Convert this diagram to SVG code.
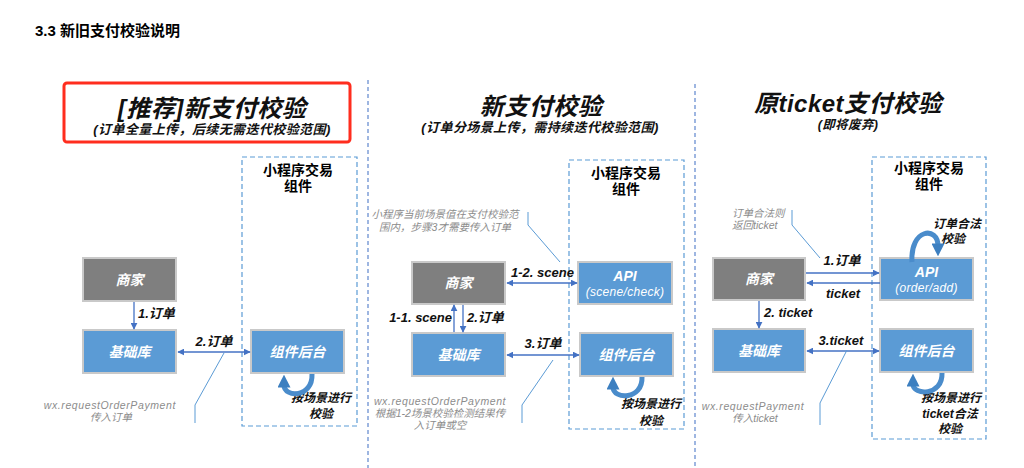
<svg xmlns="http://www.w3.org/2000/svg" width="1024" height="468" viewBox="0 0 1024 468">
<defs>
<style>
.h{font-family:"Liberation Sans","Noto Sans CJK SC",sans-serif;font-weight:bold;fill:#000}
.t{font-family:"Liberation Sans","Noto Sans CJK SC",sans-serif;font-weight:bold;font-style:italic;fill:#111}
.w{font-family:"Liberation Sans","Noto Sans CJK SC",sans-serif;font-weight:bold;font-style:italic;fill:#fff;font-size:14px;text-anchor:middle}
.ws{font-weight:normal;font-size:12px;letter-spacing:0.3px}
.g{font-family:"Liberation Sans","Noto Sans CJK SC",sans-serif;font-style:italic;fill:#8c8c8c;font-size:10.5px}
.gray{fill:#7f7f7f;stroke:#c9c9c9;stroke-width:2}
.blue{fill:#5b9bd5;stroke:#c9c9c9;stroke-width:2}
.dash{fill:none;stroke:#5b9bd5;stroke-width:1.2;stroke-dasharray:5 3}
.div{fill:none;stroke:#7f9fd8;stroke-width:1.5;stroke-dasharray:4 3}
.c{fill:none;stroke:#4472c4;stroke-width:1.3}
.call{fill:none;stroke:#5b9bd5;stroke-width:1}
.loop{fill:none;stroke:#4a8ccb;stroke-width:5}
.m{text-anchor:middle}
.e{text-anchor:end}
.sub{font-size:13px;letter-spacing:0.4px}
.big{font-size:24px;letter-spacing:0.5px}
</style>
<marker id="a" viewBox="0 0 10 10" refX="9" refY="5" markerWidth="7" markerHeight="7" markerUnits="userSpaceOnUse" orient="auto-start-reverse"><path d="M0,0 L10,5 L0,10 z" fill="#4472c4"/></marker>
<marker id="L" viewBox="0 0 10 10" refX="2" refY="5" markerWidth="13" markerHeight="13" markerUnits="userSpaceOnUse" orient="auto"><path d="M0,0 L10,5 L0,10 z" fill="#3c7fc0"/></marker>
</defs>
<rect width="1024" height="468" fill="#fff"/>

<text class="h" x="35" y="36" font-size="15">3.3 新旧支付校验说明</text>

<!-- dividers -->
<line class="div" x1="368" y1="80" x2="368" y2="468"/>
<line class="div" x1="695" y1="84" x2="695" y2="468"/>

<!-- Panel 1 -->
<g id="p1-header">
<rect x="64" y="83" width="286" height="59" rx="3" fill="none" stroke="#ff2d1e" stroke-width="3"/>
<text class="t m big" x="212" y="117">[推荐]新支付校验</text>
<text class="t m sub" x="212" y="134">(订单全量上传，后续无需迭代校验范围)</text>
</g>
<g id="p1-container">
<rect class="dash" x="242" y="157" width="115" height="269"/>
<text class="h m" x="298" y="175" font-size="14">小程序交易</text>
<text class="h m" x="298" y="191" font-size="14">组件</text>
</g>
<g id="p1-merchant"><rect class="gray" x="83" y="258" width="93" height="43"/><text class="w" x="129.5" y="285">商家</text></g>
<g id="p1-base"><rect class="blue" x="83" y="330" width="93" height="43"/><text class="w" x="129.5" y="357">基础库</text></g>
<g id="p1-backend"><rect class="blue" x="251" y="330" width="93" height="43"/><text class="w" x="297.5" y="357">组件后台</text></g>
<g id="p1-notes">
<text class="g e" x="176" y="409" letter-spacing="0.6">wx.requestOrderPayment</text>
<text class="g m" x="111" y="421">传入订单</text>
<text class="t" x="291" y="402" font-size="12">按场景进行</text>
<text class="t m" x="321" y="418" font-size="12">校验</text>
</g>
<g id="p1-connectors">
<line class="c" x1="134" y1="302" x2="134" y2="329" marker-end="url(#a)"/>
<text class="t" x="138" y="318" font-size="13">1.订单</text>
<line class="c" x1="178" y1="352" x2="250" y2="352" marker-start="url(#a)" marker-end="url(#a)"/>
<text class="t m" x="214" y="346" font-size="13">2.订单</text>
<polyline class="call" points="224,353 195,405 195,423"/>
<path class="loop" d="M312 374 C313 398 284 398 284 385" marker-end="url(#L)"/>
</g>

<!-- Panel 2 -->
<g id="p2-header">
<text class="t m big" x="541" y="115">新支付校验</text>
<text class="t m sub" x="540" y="132">(订单分场景上传，需持续迭代校验范围)</text>
</g>
<g id="p2-container">
<rect class="dash" x="569" y="160" width="115" height="269"/>
<text class="h m" x="626" y="178" font-size="14">小程序交易</text>
<text class="h m" x="626" y="194" font-size="14">组件</text>
</g>
<g id="p2-merchant"><rect class="gray" x="412" y="262" width="93" height="42"/><text class="w" x="458.5" y="288">商家</text></g>
<g id="p2-api"><rect class="blue" x="578" y="262" width="94" height="42"/><text class="w" x="625" y="281">API</text><text class="w ws" x="625" y="296">(scene/check)</text></g>
<g id="p2-base"><rect class="blue" x="412" y="333" width="93" height="43"/><text class="w" x="458.5" y="360">基础库</text></g>
<g id="p2-backend"><rect class="blue" x="580" y="333" width="93" height="43"/><text class="w" x="626.5" y="360">组件后台</text></g>
<g id="p2-notes">
<text class="g m" x="445" y="218">小程序当前场景值在支付校验范</text>
<text class="g m" x="445" y="231">围内，步骤3才需要传入订单</text>
<text class="g m" x="440" y="405" letter-spacing="0.6">wx.requestOrderPayment</text>
<text class="g m" x="440" y="417">根据1-2场景校验检测结果传</text>
<text class="g m" x="440" y="429">入订单或空</text>
<text class="t" x="621" y="408" font-size="12">按场景进行</text>
<text class="t m" x="651" y="425" font-size="12">校验</text>
</g>
<g id="p2-connectors">
<polyline class="call" points="528,212 528,225 560,262"/>
<line class="c" x1="507" y1="283" x2="577" y2="283" marker-start="url(#a)" marker-end="url(#a)"/>
<text class="t" x="511" y="277" font-size="13">1-2. scene</text>
<line class="c" x1="454" y1="332" x2="454" y2="305" marker-end="url(#a)"/>
<text class="t e" x="452" y="322" font-size="13">1-1. scene</text>
<line class="c" x1="463" y1="305" x2="463" y2="332" marker-end="url(#a)"/>
<text class="t" x="467" y="322" font-size="13">2.订单</text>
<line class="c" x1="507" y1="355" x2="579" y2="355" marker-start="url(#a)" marker-end="url(#a)"/>
<text class="t m" x="543" y="348" font-size="13">3.订单</text>
<polyline class="call" points="553,360 522,405 522,423"/>
<path class="loop" d="M642 377 C643 400 613 400 613 387" marker-end="url(#L)"/>
</g>

<!-- Panel 3 -->
<g id="p3-header">
<text class="t m big" x="848" y="112">原ticket支付校验</text>
<text class="t m" x="848" y="129" font-size="12.5" letter-spacing="0.4">(即将废弃)</text>
</g>
<g id="p3-container">
<rect class="dash" x="872" y="157" width="114" height="282"/>
<text class="h m" x="929" y="173" font-size="14">小程序交易</text>
<text class="h m" x="929" y="189" font-size="14">组件</text>
</g>
<g id="p3-merchant"><rect class="gray" x="713" y="258" width="92" height="42"/><text class="w" x="759" y="284">商家</text></g>
<g id="p3-api"><rect class="blue" x="880" y="258" width="93" height="42"/><text class="w" x="926.5" y="277">API</text><text class="w ws" x="926.5" y="292">(order/add)</text></g>
<g id="p3-base"><rect class="blue" x="713" y="329" width="92" height="43"/><text class="w" x="759" y="356">基础库</text></g>
<g id="p3-backend"><rect class="blue" x="880" y="329" width="93" height="43"/><text class="w" x="926.5" y="356">组件后台</text></g>
<g id="p3-notes">
<text class="g" x="732" y="217">订单合法则</text>
<text class="g" x="732" y="229">返回ticket</text>
<text class="t m" x="957" y="228" font-size="12">订单合法</text>
<text class="t m" x="953" y="243" font-size="12">校验</text>
<text class="g m" x="753" y="410" letter-spacing="0.6">wx.requestPayment</text>
<text class="g m" x="755" y="422">传入ticket</text>
<text class="t" x="921" y="402" font-size="12">按场景进行</text>
<text class="t m" x="950" y="418" font-size="12">ticket合法</text>
<text class="t m" x="950" y="433" font-size="12">校验</text>
</g>
<g id="p3-connectors">
<polyline class="call" points="792,210 792,225 820,258"/>
<path class="loop" d="M912 262 C910 228 938 226 938 246" marker-end="url(#L)"/>
<line class="c" x1="806" y1="273" x2="879" y2="273" marker-end="url(#a)"/>
<text class="t m" x="842" y="265" font-size="13">1.订单</text>
<line class="c" x1="880" y1="283" x2="807" y2="283" marker-end="url(#a)"/>
<text class="t m" x="843" y="298" font-size="13">ticket</text>
<line class="c" x1="759" y1="301" x2="759" y2="328" marker-end="url(#a)"/>
<text class="t" x="764" y="317" font-size="13">2. ticket</text>
<line class="c" x1="807" y1="351" x2="879" y2="351" marker-start="url(#a)" marker-end="url(#a)"/>
<text class="t m" x="841" y="345" font-size="13">3.ticket</text>
<polyline class="call" points="847,350 820,403 820,425"/>
<path class="loop" d="M942 373 C943 396 913 396 913 384" marker-end="url(#L)"/>
</g>
</svg>
